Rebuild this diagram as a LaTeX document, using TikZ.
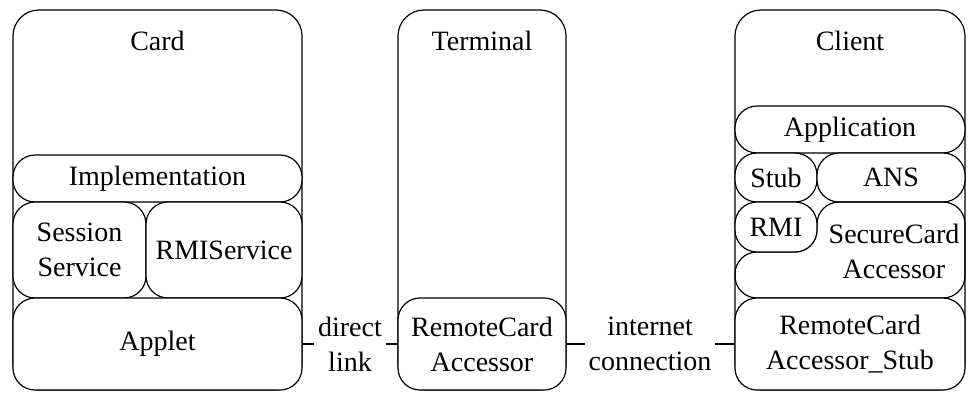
\documentclass[tikz,border=0pt]{standalone}
\usepackage{fontspec}
\setmainfont{Liberation Serif}
\begin{document}
\begin{tikzpicture}[x=0.5pt,y=-0.5pt,
  line width=0.6pt,
  font=\fontsize{14}{17.5}\selectfont,
  box/.style={draw, rounded corners=11pt, outer sep=0pt, inner sep=0pt, align=center},
  part/.style={box, fill=white},
  txt/.style={align=center, inner sep=2pt, outer sep=0pt}]
\useasboundingbox (0,0) rectangle (968,392);

% outer containers
\node[box, rounded corners=13pt, minimum width=144.5pt, minimum height=190pt] (card) at (157.5,200) {};
\node[box, rounded corners=13pt, minimum width=84pt, minimum height=190pt] (terminal) at (482,200) {};
\node[box, rounded corners=13pt, minimum width=115pt, minimum height=190pt] (client) at (850,200) {};
\node[txt] (cardT) at (157.5,41) {Card};
\node[txt] (terminalT) at (482,41) {Terminal};
\node[txt] (clientT) at (850,41) {Client};

% card layers
\node[part, minimum width=144.5pt, minimum height=23.5pt] (impl) at (157.5,178.5) {Implementation};
\node[part, minimum width=66.5pt, minimum height=48pt] (sess) at (79.5,250) {Session\\Service};
\node[part, minimum width=78pt, minimum height=48pt] (rmis) at (224,250) {RMIService};
\node[part, minimum width=144.5pt, minimum height=46pt] (applet) at (157.5,344) {Applet};

% terminal layer
\node[part, minimum width=84pt, minimum height=46pt] (rca) at (482,344) {RemoteCard\\Accessor};

% client layers
\node[part, minimum width=115pt, minimum height=23.5pt] (app) at (850,129.5) {Application};
\node[part, minimum width=41pt, minimum height=24.5pt] (stub) at (776,177.5) {Stub};
\node[part, minimum width=74pt, minimum height=24.5pt] (ans) at (891,177.5) {ANS};
\draw[rounded corners=11pt] (817,252) -- (817,202) -- (965,202) -- (965,298)
  -- (735,298) -- (735,252) -- cycle;
\node[txt] (sac) at (894,251) {SecureCard\\Accessor};
\node[part, minimum width=41pt, minimum height=25pt] (rmi) at (776,227) {RMI};
\node[part, minimum width=115pt, minimum height=46pt] (rcas) at (850,344) {RemoteCard\\Accessor\_Stub};

% links
\node[txt] (dl) at (350,344) {direct\\link};
\node[txt] (ic) at (650,344) {internet\\connection};
\draw (applet.east) -- (dl.west);
\draw (dl.east) -- (rca.west);
\draw (rca.east) -- (ic.west);
\draw (ic.east) -- (rcas.west);
\end{tikzpicture}
\end{document}
